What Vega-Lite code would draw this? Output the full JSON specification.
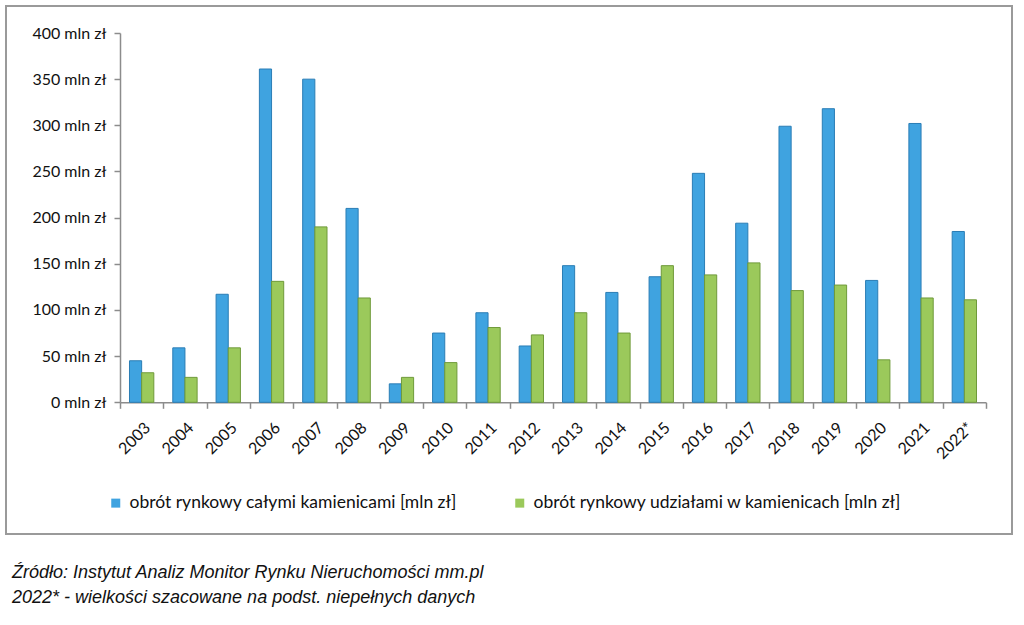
{
  "$schema": "https://vega.github.io/schema/vega-lite/v6.json",
  "width": 1006,
  "height": 528,
  "autosize": {"type": "none"},
  "padding": {"left": 6, "top": 6, "right": 12, "bottom": 91},
  "background": "white",
  "title": {
    "text": [
      "Źródło: Instytut Analiz Monitor Rynku Nieruchomości mm.pl",
      "2022* - wielkości szacowane na podst. niepełnych danych"
    ],
    "orient": "bottom",
    "anchor": "start",
    "frame": "group",
    "font": "Liberation Sans",
    "fontSize": 18,
    "fontStyle": "italic",
    "fontWeight": "normal",
    "color": "#111",
    "lineHeight": 25,
    "offset": 30,
    "dx": 6
  },
  "data": {
    "values": [
      {"year": "2003", "series": "obrót rynkowy całymi kamienicami [mln zł]", "value": 45},
      {"year": "2003", "series": "obrót rynkowy udziałami w kamienicach [mln zł]", "value": 32},
      {"year": "2004", "series": "obrót rynkowy całymi kamienicami [mln zł]", "value": 59},
      {"year": "2004", "series": "obrót rynkowy udziałami w kamienicach [mln zł]", "value": 27},
      {"year": "2005", "series": "obrót rynkowy całymi kamienicami [mln zł]", "value": 117},
      {"year": "2005", "series": "obrót rynkowy udziałami w kamienicach [mln zł]", "value": 59},
      {"year": "2006", "series": "obrót rynkowy całymi kamienicami [mln zł]", "value": 361},
      {"year": "2006", "series": "obrót rynkowy udziałami w kamienicach [mln zł]", "value": 131},
      {"year": "2007", "series": "obrót rynkowy całymi kamienicami [mln zł]", "value": 350},
      {"year": "2007", "series": "obrót rynkowy udziałami w kamienicach [mln zł]", "value": 190},
      {"year": "2008", "series": "obrót rynkowy całymi kamienicami [mln zł]", "value": 210},
      {"year": "2008", "series": "obrót rynkowy udziałami w kamienicach [mln zł]", "value": 113},
      {"year": "2009", "series": "obrót rynkowy całymi kamienicami [mln zł]", "value": 20},
      {"year": "2009", "series": "obrót rynkowy udziałami w kamienicach [mln zł]", "value": 27},
      {"year": "2010", "series": "obrót rynkowy całymi kamienicami [mln zł]", "value": 75},
      {"year": "2010", "series": "obrót rynkowy udziałami w kamienicach [mln zł]", "value": 43},
      {"year": "2011", "series": "obrót rynkowy całymi kamienicami [mln zł]", "value": 97},
      {"year": "2011", "series": "obrót rynkowy udziałami w kamienicach [mln zł]", "value": 81},
      {"year": "2012", "series": "obrót rynkowy całymi kamienicami [mln zł]", "value": 61},
      {"year": "2012", "series": "obrót rynkowy udziałami w kamienicach [mln zł]", "value": 73},
      {"year": "2013", "series": "obrót rynkowy całymi kamienicami [mln zł]", "value": 148},
      {"year": "2013", "series": "obrót rynkowy udziałami w kamienicach [mln zł]", "value": 97},
      {"year": "2014", "series": "obrót rynkowy całymi kamienicami [mln zł]", "value": 119},
      {"year": "2014", "series": "obrót rynkowy udziałami w kamienicach [mln zł]", "value": 75},
      {"year": "2015", "series": "obrót rynkowy całymi kamienicami [mln zł]", "value": 136},
      {"year": "2015", "series": "obrót rynkowy udziałami w kamienicach [mln zł]", "value": 148},
      {"year": "2016", "series": "obrót rynkowy całymi kamienicami [mln zł]", "value": 248},
      {"year": "2016", "series": "obrót rynkowy udziałami w kamienicach [mln zł]", "value": 138},
      {"year": "2017", "series": "obrót rynkowy całymi kamienicami [mln zł]", "value": 194},
      {"year": "2017", "series": "obrót rynkowy udziałami w kamienicach [mln zł]", "value": 151},
      {"year": "2018", "series": "obrót rynkowy całymi kamienicami [mln zł]", "value": 299},
      {"year": "2018", "series": "obrót rynkowy udziałami w kamienicach [mln zł]", "value": 121},
      {"year": "2019", "series": "obrót rynkowy całymi kamienicami [mln zł]", "value": 318},
      {"year": "2019", "series": "obrót rynkowy udziałami w kamienicach [mln zł]", "value": 127},
      {"year": "2020", "series": "obrót rynkowy całymi kamienicami [mln zł]", "value": 132},
      {"year": "2020", "series": "obrót rynkowy udziałami w kamienicach [mln zł]", "value": 46},
      {"year": "2021", "series": "obrót rynkowy całymi kamienicami [mln zł]", "value": 302},
      {"year": "2021", "series": "obrót rynkowy udziałami w kamienicach [mln zł]", "value": 113},
      {"year": "2022*", "series": "obrót rynkowy całymi kamienicami [mln zł]", "value": 185},
      {"year": "2022*", "series": "obrót rynkowy udziałami w kamienicach [mln zł]", "value": 111}
    ]
  },
  "mark": {"type": "bar", "strokeWidth": 1},
  "encoding": {
    "x": {
      "field": "year",
      "type": "nominal",
      "sort": null,
      "scale": {"type": "band", "paddingInner": 0, "paddingOuter": 0, "range": [114, 980]},
      "axis": {
        "orient": "bottom",
        "offset": -131.7,
        "title": null,
        "domain": true,
        "domainColor": "#8c8c8c",
        "domainWidth": 1.5,
        "ticks": true,
        "tickBand": "extent",
        "tickSize": 6,
        "tickColor": "#8c8c8c",
        "tickWidth": 1.5,
        "labelAngle": -45,
        "labelFont": "Lato",
        "labelFontSize": 16,
        "labelColor": "#111",
        "labelPadding": 11
      }
    },
    "xOffset": {
      "field": "series",
      "type": "nominal",
      "scale": {"paddingOuter": 0.78, "paddingInner": 0}
    },
    "y": {
      "field": "value",
      "type": "quantitative",
      "scale": {"domain": [0, 400], "nice": false, "range": [396.3, 27]},
      "axis": {
        "orient": "left",
        "offset": -114,
        "title": null,
        "grid": false,
        "domain": true,
        "domainColor": "#8c8c8c",
        "domainWidth": 1.5,
        "values": [0, 50, 100, 150, 200, 250, 300, 350, 400],
        "labelExpr": "datum.value + ' mln zł'",
        "labelFont": "Lato",
        "labelFontSize": 16,
        "labelColor": "#111",
        "labelPadding": 8,
        "tickSize": 6,
        "tickColor": "#8c8c8c",
        "tickWidth": 1.5
      }
    },
    "color": {
      "field": "series",
      "type": "nominal",
      "scale": {
        "domain": [
          "obrót rynkowy całymi kamienicami [mln zł]",
          "obrót rynkowy udziałami w kamienicach [mln zł]"
        ],
        "range": ["#3fa3e0", "#9bc95b"]
      },
      "legend": {
        "orient": "none",
        "legendX": 101,
        "legendY": 488,
        "direction": "horizontal",
        "title": null,
        "symbolType": "square",
        "symbolSize": 81,
        "symbolStrokeWidth": 0,
        "labelFont": "Lato",
        "labelFontSize": 17.5,
        "labelColor": "#111",
        "labelOffset": 5,
        "labelLimit": 500,
        "columnPadding": 54
      }
    },
    "stroke": {
      "field": "series",
      "type": "nominal",
      "scale": {"range": ["#2a7db5", "#6f9a3a"]},
      "legend": null
    }
  },
  "config": {
    "view": {"stroke": "#9a9a9a", "strokeWidth": 2, "fill": "white"}
  }
}
